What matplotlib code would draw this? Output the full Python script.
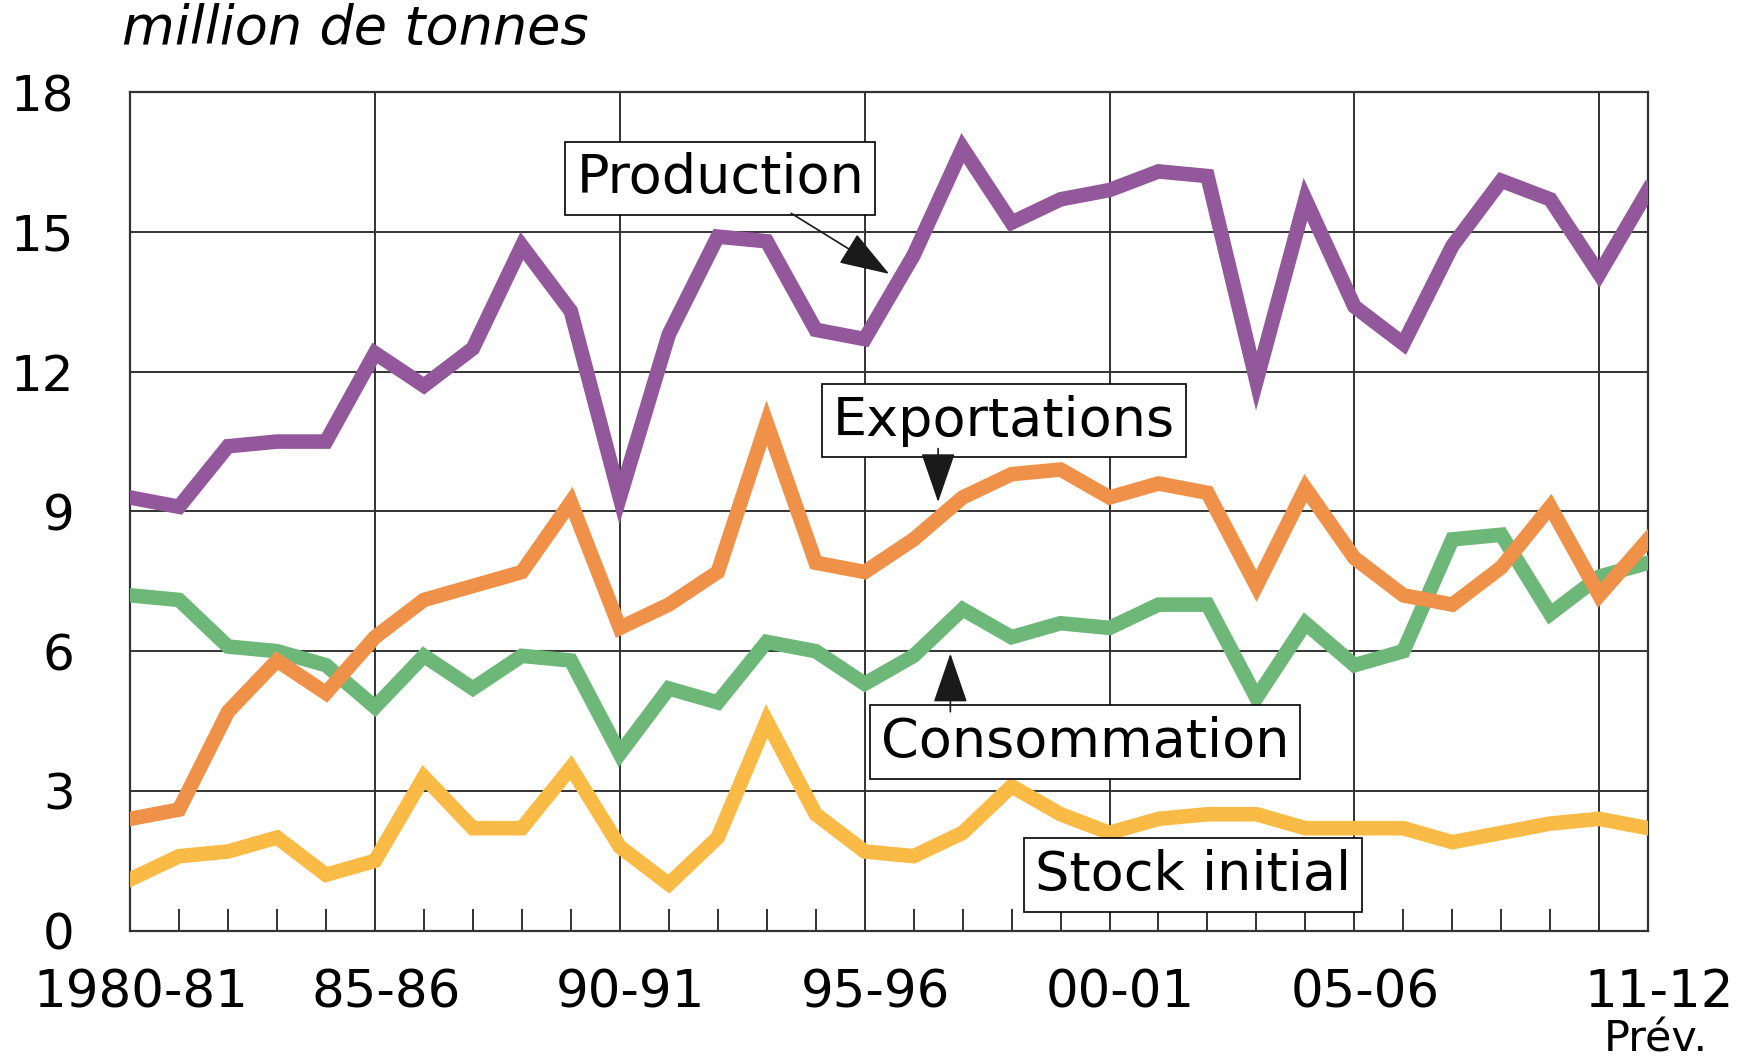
import numpy as np
import matplotlib.pyplot as plt
from matplotlib.transforms import ScaledTranslation

#------------------Data (million de tonnes), 1980-81 .. 2011-12------------------
campagnes = [f"{(1980 + i) % 100:02d}-{(1981 + i) % 100:02d}" for i in range(32)]
production = [9.3, 9.1, 10.4, 10.5, 10.5, 12.4, 11.7, 12.5, 14.7, 13.3,
              9.3, 12.8, 14.9, 14.8, 12.9, 12.7, 14.5, 16.8, 15.2, 15.7,
              15.9, 16.3, 16.2, 11.8, 15.7, 13.4, 12.6, 14.7, 16.1, 15.7,
              14.1, 15.9]
exportations = [2.4, 2.6, 4.7, 5.8, 5.1, 6.3, 7.1, 7.4, 7.7, 9.2,
                6.5, 7.0, 7.7, 10.9, 7.9, 7.7, 8.4, 9.3, 9.8, 9.9,
                9.3, 9.6, 9.4, 7.4, 9.5, 8.0, 7.2, 7.0, 7.8, 9.1,
                7.2, 8.4]
consommation = [7.2, 7.1, 6.1, 6.0, 5.7, 4.8, 5.9, 5.2, 5.9, 5.8,
                3.8, 5.2, 4.9, 6.2, 6.0, 5.3, 5.9, 6.9, 6.3, 6.6,
                6.5, 7.0, 7.0, 5.0, 6.6, 5.7, 6.0, 8.4, 8.5, 6.8,
                7.6, 7.9]
stock_initial = [1.1, 1.6, 1.7, 2.0, 1.2, 1.5, 3.3, 2.2, 2.2, 3.5,
                 1.8, 1.0, 2.0, 4.5, 2.5, 1.7, 1.6, 2.1, 3.1, 2.5,
                 2.1, 2.4, 2.5, 2.5, 2.2, 2.2, 2.2, 1.9, 2.1, 2.3,
                 2.4, 2.2]
tick_labels = ["1980-81", "85-86", "90-91", "95-96", "00-01", "05-06", "11-12"]
tick_idx = [0, 5, 10, 15, 20, 25, 31]
grid_idx = [5, 10, 15, 20, 25, 30]
#------------------Data------------------

x = np.arange(len(campagnes))
grid_col = "#333333"

fig = plt.figure(figsize=(17.46, 10.6), dpi=100)
ax = fig.add_axes([0.0745, 0.122, 0.8695, 0.791])

#------------------Grid------------------
for v in [3, 6, 9, 12, 15]:
    ax.axhline(v, color=grid_col, lw=1.4, zorder=1)
for g in grid_idx:
    ax.axvline(g, color=grid_col, lw=1.4, zorder=1)

#------------------Lines------------------
lw = 10.5
ax.plot(x, stock_initial, color="#F9BB45", lw=lw, solid_joinstyle="miter", zorder=3)
ax.plot(x, consommation, color="#6DB878", lw=lw, solid_joinstyle="miter", zorder=3)
ax.plot(x, exportations, color="#F0914A", lw=lw, solid_joinstyle="miter", zorder=3)
ax.plot(x, production, color="#93579B", lw=lw, solid_joinstyle="miter", zorder=3)

#------------------Axes------------------
ax.set_xlim(0, 31)
ax.set_ylim(0, 18)
for s in ax.spines.values():
    s.set_color(grid_col)
    s.set_linewidth(1.6)

ax.set_yticks([0, 3, 6, 9, 12, 15, 18])
ax.tick_params(axis="y", length=0, pad=40, labelsize=36)
ax.set_xticks(x, minor=True)
ax.set_xticks(tick_idx)
ax.set_xticklabels(tick_labels)
ax.tick_params(axis="x", which="both", direction="in", length=16, width=1.4,
               color=grid_col, labelsize=37, pad=27)
ax.tick_params(axis="x", which="major", length=0)
off = ScaledTranslation(11 / 100, 0, fig.dpi_scale_trans)
for lab in ax.get_xticklabels():
    lab.set_transform(lab.get_transform() + off)

fig.text(0.07, 0.973, "million de tonnes", fontsize=39, style="italic",
         va="center", ha="left")
ax.text(31.15, -0.13, "Prév.", transform=ax.get_xaxis_transform(), fontsize=31,
        ha="center", va="center")

#------------------Labels with arrows------------------
box = dict(boxstyle="square,pad=0.2", fc="white", ec="black", lw=1.2)
arrow = dict(arrowstyle="-|>,head_length=1.6,head_width=0.55", color="#1a1a1a", lw=1.2,
             shrinkA=0, shrinkB=0, mutation_scale=20)
fs = 39
ax.text(12.05, 16.15, "Production", fontsize=fs, ha="center", va="center", bbox=box, zorder=5)
ax.annotate("", xy=(15.5, 14.1), xytext=(13.5, 15.4), arrowprops=arrow, zorder=5)
ax.text(17.85, 10.95, "Exportations", fontsize=fs, ha="center", va="center", bbox=box, zorder=5)
ax.annotate("", xy=(16.5, 9.2), xytext=(16.5, 10.35), arrowprops=arrow, zorder=5)
ax.text(19.5, 4.05, "Consommation", fontsize=fs, ha="center", va="center", bbox=box, zorder=5)
ax.annotate("", xy=(16.75, 5.95), xytext=(16.75, 4.7), arrowprops=arrow, zorder=5)
ax.text(21.7, 1.2, "Stock initial", fontsize=fs, ha="center", va="center", bbox=box, zorder=5)

fig.savefig("out.png", dpi=100)
